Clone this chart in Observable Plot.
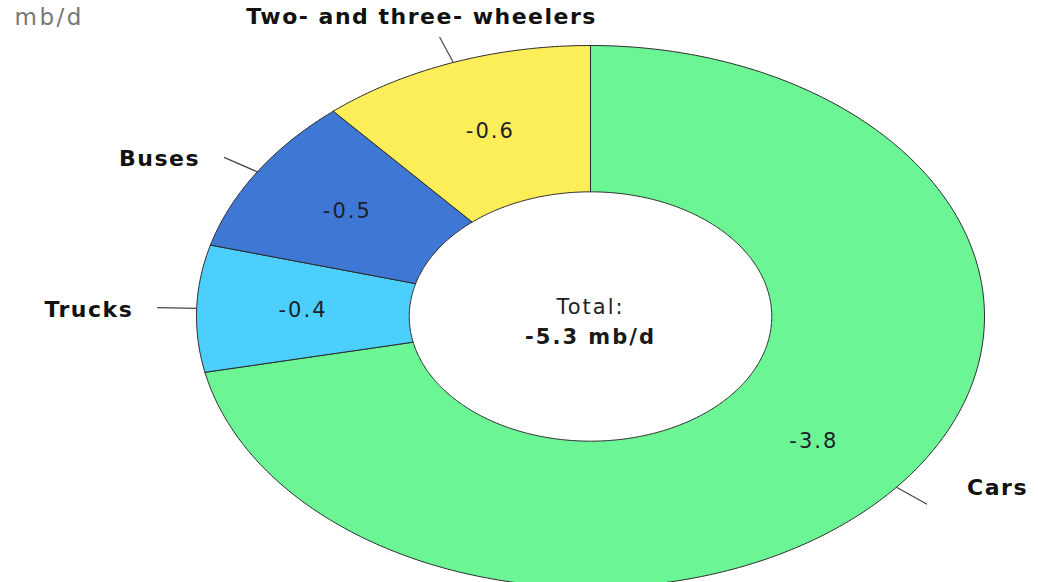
<!DOCTYPE html>
<html><head><meta charset="utf-8">
<script src="https://cdn.jsdelivr.net/npm/d3@7"></script>
<script src="https://cdn.jsdelivr.net/npm/@observablehq/plot@0.6"></script>
<style>body{margin:0;background:#fff;overflow:hidden}</style>
</head><body><div id="chart"></div>
<script>
// ---- data ----
const categories = ["Cars", "Trucks", "Buses", "Two- and three- wheelers"];
const values = [-3.8, -0.4, -0.5, -0.6];
const valueLabels = ["-3.8", "-0.4", "-0.5", "-0.6"];
const colors = ["#6bf595", "#4ccffc", "#3f78d4", "#fbee59"];
const unitLabel = "mb/d";
const totalLabel = "Total:";
const totalValue = "-5.3 mb/d";

// ---- layout ----
const W = 1038, H = 582;
const cx = 590, cy = 316, rx = 394, ry = 271, inner = 0.46;
const font = "DejaVu Sans";

const arcs = d3.pie().sort(null).value(d => Math.abs(d))(values);
const pt = (a, r) => ({x: r * Math.sin(a), y: r * Math.cos(a)});

// annular sector outlines (unit coordinates)
const ring = [];
arcs.forEach((a, i) => {
  const n = Math.max(8, Math.ceil((a.endAngle - a.startAngle) / 0.01));
  const pts = [];
  for (let k = 0; k <= n; k++) pts.push(pt(a.startAngle + (a.endAngle - a.startAngle) * k / n, 1));
  for (let k = n; k >= 0; k--) pts.push(pt(a.startAngle + (a.endAngle - a.startAngle) * k / n, inner));
  pts.push(pts[0]);
  pts.forEach((p, j) => ring.push({cat: categories[i], ...p, j}));
});

const mids = arcs.map((a, i) => {
  const m = (a.startAngle + a.endAngle) / 2;
  const lab = pt(m, (1 + inner) / 2), p0 = pt(m, 1), p1 = pt(m, 1.1);
  const s = Math.sin(m), c = Math.cos(m);
  const top = c > 0.9;
  return {cat: categories[i], val: valueLabels[i], lx: lab.x, ly: lab.y,
    x0: p0.x, y0: p0.y, x1: p1.x, y1: p1.y,
    anchor: top ? "middle" : (s < 0 ? "end" : "start"),
    dx: top ? -18 : (s < 0 ? -24 : 40), dy: top ? -20 : (s < 0 ? 2 : -16)};
});

const spacing = [];  // letter-spacing per text mark, in mark order
const T = (data, opts, ls) => { spacing.push(ls); return Plot.text(data, opts); };

const chart = Plot.plot({
  width: W, height: H, margin: 0,
  x: {domain: [-cx / rx, (W - cx) / rx], axis: null},
  y: {domain: [-(H - cy) / ry, cy / ry], axis: null},
  color: {domain: categories, range: colors},
  style: {fontFamily: font, background: "#fff"},
  marks: [
    Plot.line(ring, {x: "x", y: "y", z: "cat", fill: "cat", stroke: "#2b2b2b", strokeWidth: 1, curve: "linear"}),
    T(mids, {x: "lx", y: "ly", text: "val", fontSize: 21, fill: "#1e1e2a"}, 2),
    Plot.link(mids, {x1: "x0", y1: "y0", x2: "x1", y2: "y1", stroke: "#444", strokeWidth: 1.2}),
    ...mids.map(d => T([d], {x: "x1", y: "y1", text: "cat", textAnchor: d.anchor, dx: d.dx, dy: d.dy,
      fontSize: 22, fontWeight: "bold", fill: "#111"}, 1.5)),
    T([totalLabel], {x: () => 0, y: () => 0, text: d => d, dy: -9, fontSize: 21, fill: "#222"}, 2),
    T([totalValue], {x: () => 0, y: () => 0, text: d => d, dy: 21, fontSize: 21, fontWeight: "bold", fill: "#1a1a1a"}, 2),
    T([unitLabel], {frameAnchor: "top-left", text: d => d, dx: 14, dy: 8, fontSize: 23, fill: "#777"}, 2.5)
  ]
});
chart.querySelectorAll('g[aria-label="text"]').forEach((g, i) => {
  if (spacing[i] != null) g.setAttribute("letter-spacing", spacing[i]);
});
document.getElementById("chart").appendChild(chart);
</script>
</body></html>
